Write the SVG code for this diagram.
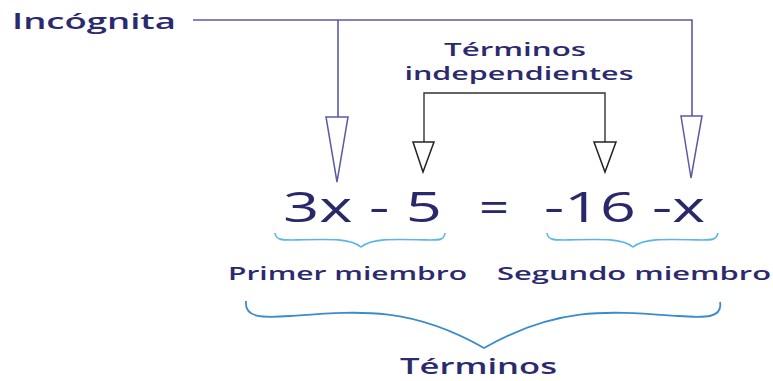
<svg xmlns="http://www.w3.org/2000/svg" width="773" height="381" viewBox="0 0 773 381">
<style>
.t{font-family:"Open Sans","Liberation Sans",sans-serif;fill:#2b2a6e;font-weight:600}
.eq{font-family:"Open Sans","Liberation Sans",sans-serif;fill:#29286b;font-weight:500;font-size:42px}
.nv{stroke:#5a5aa8;stroke-width:1.6;fill:none}
.bk{stroke:#333;stroke-width:1.4;fill:none}
.ahn{fill:#fff;stroke:#5a5aa8;stroke-width:1.5}
.ahb{fill:#fff;stroke:#222;stroke-width:1.5}
.br{fill:none;stroke:#5bb6e4;stroke-width:1.6}
.bb{fill:none;stroke:#3b8ccb;stroke-width:1.8}
</style>
<rect width="773" height="381" fill="#fff"/>
<g id="connectors">
<path class="nv" d="M193 20 H692 V116"/>
<path class="nv" d="M338 20 V117"/>
<polygon class="ahn" points="326,117 348,117 337,182"/>
<polygon class="ahn" points="681,116 702,116 691,178"/>
<path class="bk" d="M424 142 V93 H605 V142"/>
<polygon class="ahb" points="413,142 434,142 423,172"/>
<polygon class="ahb" points="594,142 616,142 605,172"/>
</g>
<g id="incognita"><text class="t" x="12" y="29" font-size="21" textLength="164" lengthAdjust="spacingAndGlyphs">Incógnita</text></g>
<g id="terminos-independientes">
<text class="t" x="515" y="56" font-size="18" text-anchor="middle" textLength="142" lengthAdjust="spacingAndGlyphs">Términos</text>
<text class="t" x="519" y="80" font-size="18" text-anchor="middle" textLength="229" lengthAdjust="spacingAndGlyphs">independientes</text>
</g>
<g id="ecuacion">
<text class="eq" x="283" y="222" textLength="159" lengthAdjust="spacingAndGlyphs">3x - 5</text>
<text class="eq" x="479" y="222" textLength="30" lengthAdjust="spacingAndGlyphs">=</text>
<text class="eq" x="544" y="222" textLength="161" lengthAdjust="spacingAndGlyphs">-16 -x</text>
</g>
<g id="primer-miembro">
<path class="br" d="M275 233 C276 240 282 240 292 240 C330 239 350 238 361 247 C372 238 392 239 430 240 C440 240 444 240 445 233"/>
<text class="t" x="228" y="280" font-size="18" textLength="239" lengthAdjust="spacingAndGlyphs">Primer miembro</text>
</g>
<g id="segundo-miembro">
<path class="br" d="M547 233 C548 240 554 240 564 240 C602 239 622 238 633 247 C644 238 664 239 702 240 C712 240 716 240 718 233"/>
<text class="t" x="497" y="280" font-size="18" textLength="274" lengthAdjust="spacingAndGlyphs">Segundo miembro</text>
</g>
<g id="terminos">
<path class="bb" d="M246 301 C244 318 262 318 290 316 C360 311 410 306 484 348 C558 306 608 311 678 316 C706 318 723 318 720 302"/>
<text class="t" x="400" y="374" font-size="21" textLength="157" lengthAdjust="spacingAndGlyphs">Términos</text>
</g>
</svg>
